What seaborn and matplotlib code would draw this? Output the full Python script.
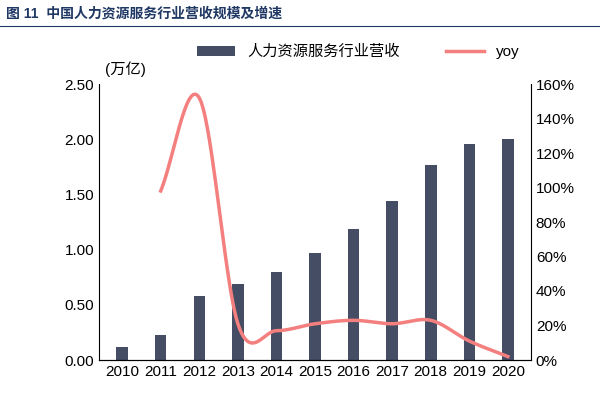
import numpy as np
import pandas as pd
import matplotlib.pyplot as plt
import seaborn as sns

plt.rcParams["font.family"] = ["Liberation Sans", "Noto Sans CJK SC", "DejaVu Sans"]

years = ["2010", "2011", "2012", "2013", "2014", "2015", "2016", "2017", "2018", "2019", "2020"]
revenue = [0.12, 0.23, 0.58, 0.69, 0.80, 0.97, 1.19, 1.44, 1.77, 1.96, 2.00]
yoy_years = years[1:]
yoy = [98, 152, 21, 17, 21, 23, 21, 23, 11, 2]

bar_color = "#404A6A"
line_color = "#F47F7F"

df = pd.DataFrame({"year": years, "revenue": revenue})

fig = plt.figure(figsize=(6, 4), dpi=100)
ax = fig.add_axes([0.165, 0.1, 0.72, 0.69])
sns.barplot(data=df, x="year", y="revenue", color=bar_color, width=0.3, ax=ax,
            label="人力资源服务行业营收")
ax.set_ylim(0, 2.5)
ax.set_yticks(np.arange(0, 2.51, 0.5))
ax.set_yticklabels([f"{v:.2f}" for v in np.arange(0, 2.51, 0.5)])
ax.set_xlabel(""); ax.set_ylabel("")
ax.tick_params(labelsize=11, length=0)
for s in ["top", "right"]:
    ax.spines[s].set_visible(False)

# smooth line (Catmull-Rom through the data points)
ax2 = ax.twinx()
xs = np.array([years.index(y) for y in yoy_years], dtype=float)
ys = np.array(yoy, dtype=float)
px = np.concatenate([[2 * xs[0] - xs[1]], xs, [2 * xs[-1] - xs[-2]]])
py = np.concatenate([[2 * ys[0] - ys[1]], ys, [2 * ys[-1] - ys[-2]]])
sx, sy = [], []
for i in range(1, len(px) - 2):
    t = np.linspace(0, 1, 20)
    for arr, out in ((px, sx), (py, sy)):
        p0, p1, p2, p3 = arr[i - 1], arr[i], arr[i + 1], arr[i + 2]
        out.extend(0.5 * (2 * p1 + (-p0 + p2) * t + (2 * p0 - 5 * p1 + 4 * p2 - p3) * t ** 2
                          + (-p0 + 3 * p1 - 3 * p2 + p3) * t ** 3))
ax2.plot(sx, sy, color=line_color, lw=2.5, label="yoy")
ax2.set_ylim(0, 160)
ax2.set_yticks(range(0, 161, 20))
ax2.set_yticklabels([f"{v}%" for v in range(0, 161, 20)])
ax2.tick_params(labelsize=11, length=0)
for s in ["top", "left"]:
    ax2.spines[s].set_visible(False)
ax.set_xlim(-0.6, 10.6)

h1, l1 = ax.get_legend_handles_labels()
h2, l2 = ax2.get_legend_handles_labels()
ax.legend(h1 + h2, l1 + l2, loc="lower center", bbox_to_anchor=(0.6, 1.04), ncol=2,
          frameon=False, fontsize=11, handlelength=2.5, columnspacing=3)
fig.text(0.175, 0.815, "(万亿)", fontsize=11)

fig.text(0.01, 0.955, "图 11  中国人力资源服务行业营收规模及增速", fontsize=10,
         color="#1F3864", fontweight="bold")
fig.add_artist(plt.Line2D([0.0, 1.0], [0.935, 0.935], color="#1F3864", lw=0.8))

fig.savefig("out.png", dpi=100)
